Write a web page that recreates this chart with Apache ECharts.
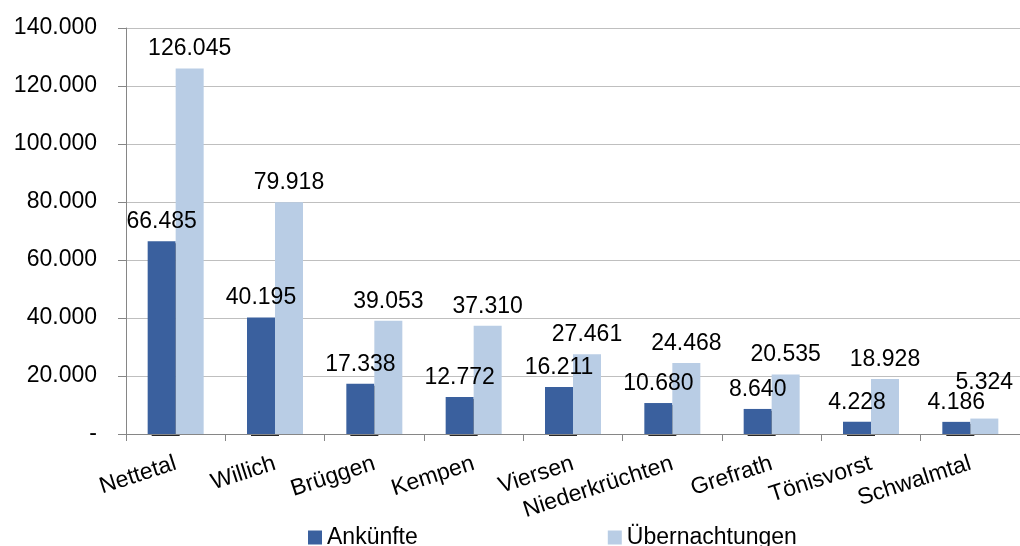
<!DOCTYPE html>
<html><head><meta charset="utf-8">
<script src="https://cdn.jsdelivr.net/npm/echarts@6/dist/echarts.min.js"></script>
<style>html,body{margin:0;padding:0;background:#fff}#c{width:1020px;height:546px}</style>
</head><body><div id="c"></div>
<script>
var categories = ["Nettetal","Willich","Brüggen","Kempen","Viersen","Niederkrüchten","Grefrath","Tönisvorst","Schwalmtal"];
var ankuenfte = [66485,40195,17338,12772,16211,10680,8640,4228,4186];
var uebernachtungen = [126045,79918,39053,37310,27461,24468,20535,18928,5324];
var seriesNames = ["Ankünfte","Übernachtungen"];

function fmt(v){
  if (v === 0) return "-";
  return String(Math.round(v)).replace(/\B(?=(\d{3})+(?!\d))/g, ".");
}
var FONT = "Liberation Sans";
var FS = 23;
var chart = echarts.init(document.getElementById('c'), null, {renderer:'canvas'});
var labelBase = {show:true, position:'top', distance:8, color:'#000', fontFamily:FONT, fontSize:FS, formatter:function(p){return fmt(p.value);}};
var uebData = uebernachtungen.map(function(v,i){
  if (i === 8) return {value:v, label:{offset:[0,-16]}};
  return v;
});
chart.setOption({
  animation:false,
  textStyle:{fontFamily:FONT},
  grid:{left:126, right:0, top:28, bottom:112, containLabel:false},
  legend:{
    top:521, left:303, itemWidth:14, itemHeight:14, itemGap:190,
    icon:'rect',
    textStyle:{fontFamily:FONT, fontSize:FS, color:'#000'},
    data:seriesNames
  },
  xAxis:{
    type:'category', data:categories, z:3,
    axisLine:{lineStyle:{color:'#868686', width:1}},
    axisTick:{show:true, length:7, alignWithLabel:false, lineStyle:{color:'#868686'}},
    axisLabel:{rotate:18, margin:29, color:'#000', fontFamily:FONT, fontSize:FS, interval:0}
  },
  yAxis:{
    type:'value', min:0, max:140000, interval:20000,
    axisLine:{show:true, lineStyle:{color:'#868686'}},
    axisTick:{show:true, length:8, lineStyle:{color:'#868686'}},
    splitLine:{show:true, lineStyle:{color:'#BFBFBF', width:1}},
    axisLabel:{margin:29, color:'#000', fontFamily:FONT, fontSize:FS, formatter:fmt}
  },
  series:[
    {name:seriesNames[0], type:'bar', data:ankuenfte, barWidth:28, barGap:'0%',
     itemStyle:{color:'#3A609E', shadowColor:'rgba(0,0,0,0.85)', shadowOffsetX:4, shadowOffsetY:2, shadowBlur:0},
     label:labelBase},
    {name:seriesNames[1], type:'bar', data:uebData, barWidth:28, barGap:'0%',
     itemStyle:{color:'#B9CDE5'}, label:labelBase}
  ]
});
</script></body></html>
